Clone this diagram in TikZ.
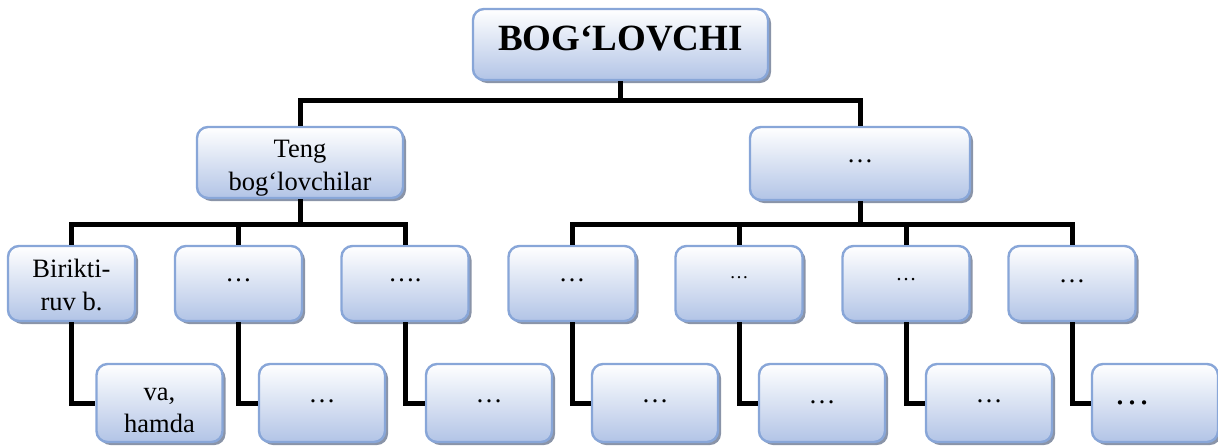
\documentclass[tikz,border=0pt]{standalone}
\usepackage{fontspec}
\setmainfont{Liberation Serif}
\usetikzlibrary{shadows}
\definecolor{bordc}{RGB}{136,166,216}
\definecolor{fillc}{RGB}{178,196,230}
\definecolor{shadc}{RGB}{138,148,168}
\newcommand\twol[3]{\raisebox{#3}[\height][\depth]{\renewcommand\arraystretch{1.03}\begin{tabular}{@{}c@{}}#1\\#2\end{tabular}}}
\begin{document}
\begin{tikzpicture}[x=1pt,y=-1pt,
  box/.style={draw=bordc, line width=2.4pt, rounded corners=11pt,
    top color=white, bottom color=fillc,
    drop shadow={shadow xshift=3pt, shadow yshift=-3pt, fill=shadc, opacity=1},
    inner sep=2pt, align=center, font=\fontsize{26.5}{31.5}\selectfont},
  lthree/.style={box, minimum width=127pt, minimum height=75pt},
  lfour/.style={box, minimum width=126pt, minimum height=78pt},
  conn/.style={line width=5pt, black},
]
\useasboundingbox (0,0) rectangle (1218,445);

\node[box, minimum width=295pt, minimum height=71pt, font=\bfseries\fontsize{37}{40}\selectfont] (top) at (620.5,44.5) {\raisebox{6pt}[\height][\depth]{BOG‘LOVCHI}};
\node[box, minimum width=206pt, minimum height=71pt] (teng) at (300,162.5) {\twol{Teng}{bog‘lovchilar}{-5pt}};
\node[box, minimum width=220pt, minimum height=73pt] (r2) at (860,163.5) {\raisebox{5pt}{…}};

\node[lthree] (a1) at (71.5,283.5) {\twol{Birikti-}{ruv b.}{-4pt}};
\node[lthree] (a2) at (238.5,283.5) {\raisebox{6pt}{…}};
\node[lthree] (a3) at (405,283.5) {\raisebox{6pt}{….}};
\node[lthree] (b1) at (572,283.5) {\raisebox{6pt}{…}};
\node[lthree] (b2) at (739,283.5) {\fontsize{19}{22}\selectfont\raisebox{12pt}{…}};
\node[lthree] (b3) at (906,283.5) {\fontsize{21}{24}\selectfont\raisebox{8pt}{…}};
\node[lthree] (b4) at (1072,283.5) {\raisebox{4pt}{…}};

\node[lfour] (c1) at (159.5,403) {\twol{va,}{hamda}{-7pt}};
\node[lfour] (c2) at (322,403) {\fontsize{27}{31}\selectfont\raisebox{3pt}{…}};
\node[lfour] (c3) at (489,403) {\fontsize{27}{31}\selectfont\raisebox{3pt}{…}};
\node[lfour] (d1) at (655,403) {\fontsize{27}{31}\selectfont\raisebox{3pt}{…}};
\node[lfour] (d2) at (822,403) {\fontsize{27}{31}\selectfont\raisebox{1pt}{…}};
\node[lfour] (d3) at (989,403) {\fontsize{27}{31}\selectfont\raisebox{3pt}{…}};
\node[lfour] (d4) at (1155,403) {\fontsize{36}{40}\selectfont\raisebox{-4pt}{…}\hspace{46pt}};

\coordinate (j1) at (620.5,100);
\draw[conn] (top.south) -- (j1);
\draw[conn] (teng.north) |- (j1) -| (r2.north);

\coordinate (j2) at (300,224);
\draw[conn] (teng.south) -- (j2);
\draw[conn] (a1.north) |- (j2) -| (a3.north);
\draw[conn] (a2.north) -- (a2.north |- j2);

\coordinate (j3) at (860,224);
\draw[conn] (r2.south) -- (j3);
\draw[conn] (b1.north) |- (j3) -| (b4.north);
\draw[conn] (b2.north) -- (b2.north |- j3);
\draw[conn] (b3.north) -- (b3.north |- j3);

\draw[conn] (a1.south) |- (c1.west);
\draw[conn] (a2.south) |- (c2.west);
\draw[conn] (a3.south) |- (c3.west);
\draw[conn] (b1.south) |- (d1.west);
\draw[conn] (b2.south) |- (d2.west);
\draw[conn] (b3.south) |- (d3.west);
\draw[conn] (b4.south) |- (d4.west);
\end{tikzpicture}
\end{document}
